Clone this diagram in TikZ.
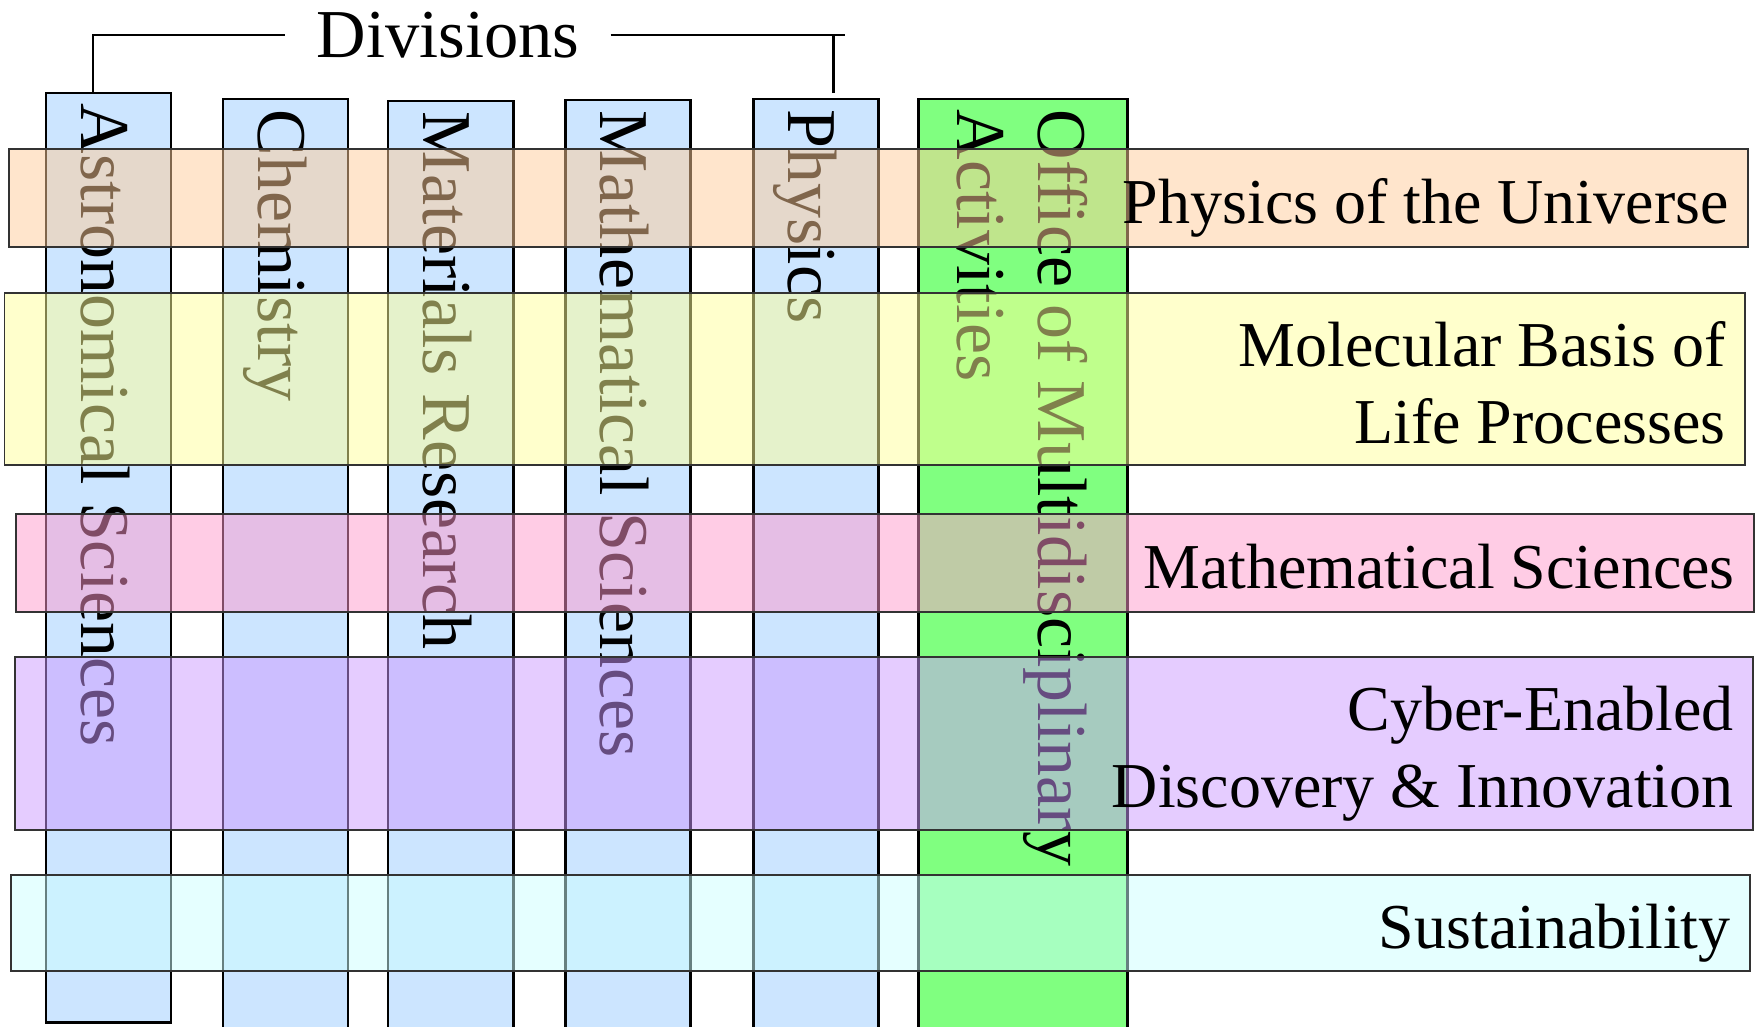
\documentclass[tikz,border=0pt]{standalone}
\usepackage{fontspec}
\setmainfont{Liberation Serif}
\usepackage{xcolor}
\usepackage{tikz}
\usetikzlibrary{positioning,calc,fit}
\definecolor{divblue}{HTML}{CCE5FF}
\definecolor{omagreen}{HTML}{80FF80}
\definecolor{pubg}{HTML}{FFCC99}
\definecolor{mbbg}{HTML}{FFFF99}
\definecolor{msbg}{HTML}{FF99CC}
\definecolor{cdbg}{HTML}{CC99FF}
\definecolor{susbg}{HTML}{CCFFFF}
\tikzset{
  divcol/.style={
    rectangle, draw=black, line width=1.7pt, fill=divblue, inner sep=0pt
  },
  omacol/.style={divcol, fill=omagreen},
  theme/.style={
    rectangle, draw=black!80, line width=1.1pt, fill opacity=0.5, inner sep=0pt
  },
  divtext/.style={
    rotate=-90, anchor=base west, inner sep=0pt,
    font=\fontsize{39.8pt}{46pt}\selectfont
  },
  themetext/.style={
    anchor=east, align=right, inner sep=0pt, text depth=0pt,
    font=\fontsize{36.4pt}{43.8pt}\selectfont
  },
  bracket/.style={line width=1.7pt, draw=black},
}

\begin{document}
\begin{tikzpicture}[x=0.2mm, y=-0.2mm]
  \useasboundingbox (0,0) rectangle (1759,1026);
  \clip (0,0) rectangle (1759,1026);
  % division columns
  \node (c1) [divcol, fit={(46,93) (171,1022)}] {};
  \node (c2) [divcol, fit={(223,99) (348,1040)}] {};
  \node (c3) [divcol, fit={(388,101) (513,1040)}] {};
  \node (c4) [divcol, fit={(565,100) (690,1040)}] {};
  \node (c5) [divcol, fit={(753,99) (878,1040)}] {};
  \node (c6) [omacol, fit={(918,99) (1127,1040)}] {};
  \node (t1) [divtext] at ($(c1.north)+(-27,12)$) {Astronomical Sciences};
  \node (t2) [divtext] at ($(c2.north)+(-27,12)$) {Chemistry};
  \node (t3) [divtext] at ($(c3.north)+(-27,12)$) {Materials Research};
  \node (t4) [divtext] at ($(c4.north)+(-27,12)$) {Mathematical Sciences};
  \node (t5) [divtext] at ($(c5.north)+(-27,12)$) {Physics};
  \node (t6a) [divtext] at ($(c6.north)+(15.5,12)$) {Office of Multidisciplinary};
  \node (t6b) [divtext] at ($(c6.north)+(-65.5,12)$) {Activities};
  % themes across the divisions
  \node (r1) [theme, fill=pubg, fit={(9,149) (1748,247)}] {};
  \node (r2) [theme, fill=mbbg, fit={(4.5,293) (1745,465)}] {};
  \node (r3) [theme, fill=msbg, fit={(15.7,514) (1754,612)}] {};
  \node (r4) [theme, fill=cdbg, fit={(14.6,657) (1753,830)}] {};
  \node (r5) [theme, fill=susbg, fit={(11,875) (1750,971)}] {};
  \node (l1) [themetext] at ($(r1.east)+(-20,3)$) {Physics of the Universe};
  \node (l2) [themetext] at ($(r2.east)+(-20,3)$) {Molecular Basis of\\Life Processes};
  \node (l3) [themetext] at ($(r3.east)+(-20,3)$) {Mathematical Sciences};
  \node (l4) [themetext] at ($(r4.east)+(-20,3)$) {Cyber-Enabled\\Discovery \& Innovation};
  \node (l5) [themetext] at ($(r5.east)+(-20,3)$) {Sustainability};
  % divisions bracket
  \node (div) [inner xsep=6.2mm, inner ysep=0pt, text depth=0pt,
    font=\fontsize{39pt}{46pt}\selectfont] at (448,35) {Divisions};
  \coordinate (bl) at (93,93);
  \coordinate (br) at (833,93);
  \draw[bracket] (bl) |- (div.west);
  \draw[bracket] (div.east) -- ++(234,0);
  \draw[bracket] (br) -- (br |- div.east);
\end{tikzpicture}
\end{document}
